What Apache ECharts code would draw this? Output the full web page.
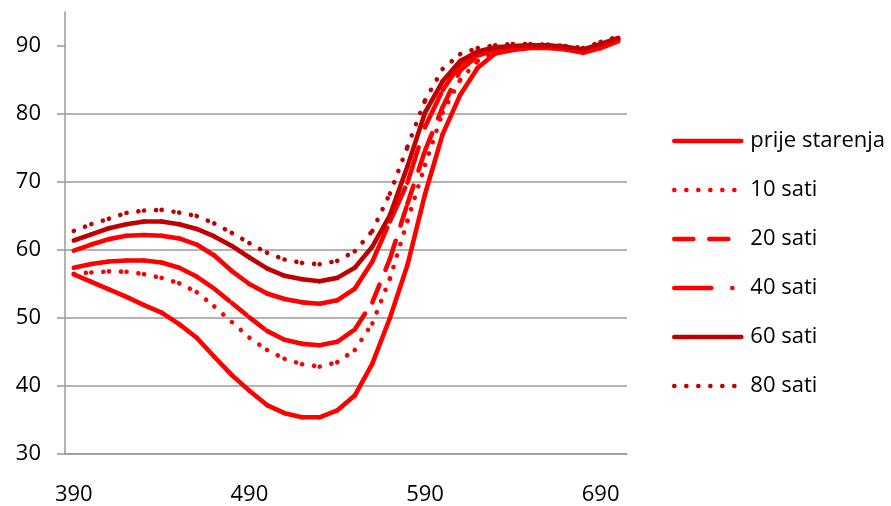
<!DOCTYPE html>
<html>
<head>
<meta charset="utf-8">
<script src="https://cdn.jsdelivr.net/npm/echarts@6/dist/echarts.min.js"></script>
<style>
html,body{margin:0;padding:0;background:#fff;}
#chart{width:891px;height:506px;}
</style>
</head>
<body>
<div id="chart"></div>
<script>
const categories = [390,400,410,420,430,440,450,460,470,480,490,500,510,520,530,540,550,560,570,580,590,600,610,620,630,640,650,660,670,680,690,700];
const yTicks = [30,40,50,60,70,80,90];

const prijeStarenja = [56.4,55.3,54.2,53.1,51.9,50.8,49.1,47.1,44.3,41.6,39.3,37.2,36.0,35.4,35.4,36.4,38.6,43.3,50.0,57.8,68.2,77.0,82.8,86.8,88.9,89.4,89.7,89.7,89.5,89.0,89.7,90.7];
const sati10 = [56.5,56.7,56.85,56.8,56.45,55.9,55.1,53.8,51.7,49.4,47.1,45.3,44.0,43.2,42.85,43.5,45.3,49.2,55.8,64.3,72.5,80.2,85.0,87.8,89.2,89.6,89.8,89.8,89.6,89.1,89.9,90.9];
const sati20 = [57.4,57.95,58.3,58.45,58.45,58.15,57.4,56.1,54.3,52.2,50.1,48.1,46.8,46.2,46.0,46.5,48.3,52.3,58.7,66.8,74.6,81.0,86.4,88.6,89.4,89.7,89.9,89.9,89.7,89.2,90.0,91.0];
const sati40 = [59.9,60.8,61.6,62.1,62.2,62.1,61.7,60.8,59.2,56.9,55.0,53.6,52.8,52.3,52.1,52.6,54.3,58.3,64.2,69.9,78.1,83.5,87.3,89.0,89.6,89.8,90.0,90.0,89.8,89.3,90.1,91.0];
const sati60 = [61.4,62.3,63.2,63.8,64.2,64.2,63.8,63.1,62.0,60.6,58.9,57.3,56.2,55.7,55.4,55.9,57.4,60.5,65.1,72.3,80.2,84.8,87.8,89.2,89.8,90.0,90.1,90.1,89.9,89.5,90.3,91.2];
const sati80 = [62.8,63.8,64.6,65.45,65.8,65.9,65.5,65.0,63.9,62.5,61.0,59.6,58.6,58.1,57.9,58.4,59.8,62.8,68.3,75.2,82.0,86.6,88.8,89.7,90.1,90.3,90.3,90.2,90.0,89.7,90.6,91.4];

const seriesNames = ['prije starenja','10 sati','20 sati','40 sati','60 sati','80 sati'];
const seriesValues = [prijeStarenja, sati10, sati20, sati40, sati60, sati80];
const RED = '#FF0000', DARK = '#C00000';
const styles = [
  {color: RED,  dash: null},
  {color: RED,  dash: [0.1, 11.9]},
  {color: RED,  dash: [19, 16]},
  {color: RED,  dash: [37, 21, 0.1, 20]},
  {color: DARK, dash: null},
  {color: DARK, dash: [0.1, 11.9]}
];
const LW = 4.6;
const FONT = 'Open Sans';

function makeRenderer(values, st) {
  return function (params, api) {
    const i = params.dataIndex;
    if (i >= values.length - 1) return null;
    const p0 = api.coord([i, values[i]]);
    const p1 = api.coord([i + 1, values[i + 1]]);
    const style = {stroke: st.color, lineWidth: LW, lineCap: 'round', lineJoin: 'round', fill: null};
    if (st.dash) { style.lineDash = st.dash; style.lineDashOffset = 0; }
    return {type: 'line', shape: {x1: p0[0], y1: p0[1], x2: p1[0], y2: p1[1]}, style: style, silent: true};
  };
}

const series = [];
// legend proxies (carry the line style for the legend icons)
seriesNames.forEach(function (name, k) {
  series.push({
    type: 'line', name: name, data: [], symbol: 'none', symbolSize: 0, showSymbol: false,
    lineStyle: {color: styles[k].color, width: LW, type: styles[k].dash || 'solid', cap: 'round'},
    itemStyle: {color: styles[k].color, opacity: 0}
  });
});
// actual data, drawn segment by segment
seriesNames.forEach(function (name, k) {
  series.push({
    type: 'custom', name: name,
    data: seriesValues[k].map(function (v, i) { return [i, v]; }),
    encode: {x: 0, y: 1},
    renderItem: makeRenderer(seriesValues[k], styles[k]),
    itemStyle: {color: styles[k].color},
    z: 2 + k
  });
});

const chart = echarts.init(document.getElementById('chart'));
chart.setOption({
  animation: false,
  backgroundColor: '#fff',
  textStyle: {fontFamily: FONT},
  grid: {left: 65, right: 264, top: 12, bottom: 52, containLabel: false},
  xAxis: {
    type: 'category',
    data: categories.map(String),
    boundaryGap: true,
    axisLine: {show: true, lineStyle: {color: '#9a9a9a', width: 1.5}},
    axisTick: {show: false},
    axisLabel: {interval: 9, color: '#000', fontSize: 22, fontFamily: FONT, margin: 30},
    splitLine: {show: false}
  },
  yAxis: {
    type: 'value',
    min: 30, max: 95, interval: 10,
    axisLine: {show: true, lineStyle: {color: '#9a9a9a', width: 1.5}},
    axisTick: {show: true, inside: false, length: 8, customValues: yTicks, lineStyle: {color: '#9a9a9a', width: 1.5}},
    axisLabel: {
      color: '#000', fontSize: 22, fontFamily: FONT, margin: 24,
      formatter: function (v) { return yTicks.indexOf(v) >= 0 ? String(v) : ''; }
    },
    splitLine: {show: true, showMaxLine: false, lineStyle: {color: '#9a9a9a', width: 1.5}}
  },
  legend: {
    orient: 'vertical',
    left: 672, top: 130, padding: 0,
    itemWidth: 67, itemHeight: 12, itemGap: 27,
    data: seriesNames,
    selectedMode: false,
    itemStyle: {opacity: 0},
    lineStyle: {width: LW, opacity: 1},
    textStyle: {color: '#000', fontSize: 22, lineHeight: 22, fontFamily: FONT, padding: [0, 0, 0, 4]}
  },
  series: series
});
</script>
</body>
</html>
